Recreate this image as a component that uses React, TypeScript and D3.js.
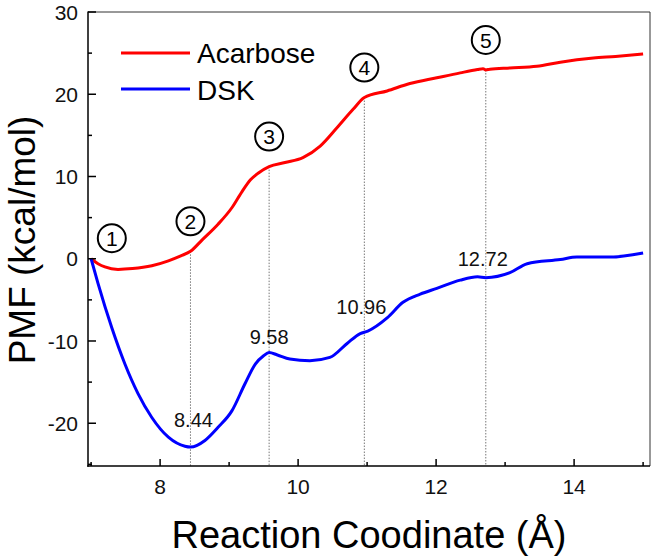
import React from "react";
import * as d3 from "d3";

// ---- Data ----
const acarboseX = [7.0, 7.1, 7.2, 7.39, 7.6, 7.88, 8.12, 8.3, 8.44, 8.61, 8.84, 9.04, 9.19, 9.31, 9.42, 9.58, 9.81, 10.07, 10.32, 10.56, 10.8, 10.96, 11.29, 11.62, 12.01, 12.35, 12.6, 12.68, 12.72, 12.78, 13.07, 13.46, 13.8, 14.28, 14.6, 15.0];
const acarboseY = [0, -0.6, -1.0, -1.3, -1.2, -0.85, -0.25, 0.35, 0.9, 2.3, 4.2, 6.2, 8.2, 9.6, 10.4, 11.2, 11.7, 12.3, 13.7, 15.9, 18.2, 19.6, 20.4, 21.3, 22.0, 22.6, 23.0, 23.1, 22.95, 23.05, 23.2, 23.4, 23.9, 24.4, 24.6, 24.9];

const dskX = [7.0, 7.1, 7.3, 7.49, 7.68, 7.88, 8.12, 8.36, 8.44, 8.65, 8.84, 9.04, 9.23, 9.38, 9.5, 9.58, 9.7, 9.88, 10.17, 10.46, 10.71, 10.9, 11.01, 11.29, 11.52, 11.77, 12.01, 12.35, 12.6, 12.72, 13.07, 13.32, 13.8, 14.04, 14.52, 15.0];
const dskY = [0, -3.0, -8.4, -12.8, -16.4, -19.3, -21.7, -22.8, -22.9, -22.1, -20.5, -18.5, -15.2, -12.8, -11.8, -11.4, -11.7, -12.2, -12.4, -12.0, -10.3, -9.1, -8.8, -7.2, -5.3, -4.3, -3.6, -2.6, -2.2, -2.3, -1.7, -0.6, -0.1, 0.2, 0.2, 0.7];

const markerX = [8.44, 9.58, 10.96, 12.72];
const markerLabels = ["8.44", "9.58", "10.96", "12.72"];
const stageX = [7.3, 8.44, 9.58, 10.96, 12.72];
const stageLabels = ["1", "2", "3", "4", "5"];

const seriesNames = ["Acarbose", "DSK"];
const seriesColors = ["#ff0000", "#0000ff"];

const xMajorTicks = [8, 10, 12, 14];
const xMinorTicks = [7, 9, 11, 13, 15];
const yMajorTicks = [-20, -10, 0, 10, 20, 30];
const yMinorTicks = [-25, -15, -5, 5, 15, 25];

const xTitle = "Reaction Coodinate (Å)";
const yTitle = "PMF (kcal/mol)";

const W = 653;
const H = 558;
const M = { left: 88, top: 12, right: 3, bottom: 92 };
const FONT = "'Liberation Sans', Arial, sans-serif";

function interp(xs: number[], ys: number[], x: number) {
  const i = d3.bisectLeft(xs, x);
  if (i <= 0) return ys[0];
  if (i >= xs.length) return ys[ys.length - 1];
  const x0 = xs[i - 1], x1 = xs[i];
  const t = (x - x0) / (x1 - x0);
  return ys[i - 1] + t * (ys[i] - ys[i - 1]);
}

export default function App() {
  const x = d3.scaleLinear().domain([6.955, 15.1]).range([M.left, W - M.right]);
  const y = d3.scaleLinear().domain([-25.2, 30]).range([H - M.bottom, M.top]);
  const x0 = M.left, x1 = W - M.right, y0 = H - M.bottom, y1 = M.top;

  const line = d3
    .line<[number, number]>()
    .x((d) => x(d[0]))
    .y((d) => y(d[1]))
    .curve(d3.curveMonotoneX);

  const acData: [number, number][] = acarboseX.map((v, i) => [v, acarboseY[i]]);
  const dsData: [number, number][] = dskX.map((v, i) => [v, dskY[i]]);

  return (
    <div style={{ position: "absolute", left: 0, top: 0 }}>
      <svg width={W} height={H} style={{ display: "block", background: "#fff" }} fontFamily={FONT}>
        {/* dotted guide lines */}
        {markerX.map((m, i) => (
          <line
            key={"g" + i}
            x1={x(m)}
            x2={x(m)}
            y1={y(interp(acarboseX, acarboseY, m))}
            y2={y0}
            stroke="#777"
            strokeWidth={1}
            strokeDasharray="1.5,1.5"
          />
        ))}

        {/* curves */}
        <path d={line(acData) || ""} fill="none" stroke={seriesColors[0]} strokeWidth={3} strokeLinejoin="round" />
        <path d={line(dsData) || ""} fill="none" stroke={seriesColors[1]} strokeWidth={3} strokeLinejoin="round" />

        {/* frame */}
        <line x1={x0} x2={x1} y1={y1} y2={y1} stroke="#333" strokeWidth={1} />
        <line x1={x1} x2={x1} y1={y1} y2={y0} stroke="#333" strokeWidth={1} />
        <line x1={x0} x2={x0} y1={y1 - 0.5} y2={y0 + 0.75} stroke="#000" strokeWidth={1.5} />
        <line x1={x0 - 0.75} x2={x1} y1={y0} y2={y0} stroke="#000" strokeWidth={1.5} />

        {/* x ticks */}
        {xMajorTicks.map((t) => (
          <g key={"xM" + t}>
            <line x1={x(t)} x2={x(t)} y1={y0} y2={y0 - 7} stroke="#000" strokeWidth={1.5} />
            <text x={x(t)} y={y0 + 28} textAnchor="middle" fontSize={21} fill="#111">
              {t}
            </text>
          </g>
        ))}
        {xMinorTicks.map((t) => (
          <line key={"xm" + t} x1={x(t)} x2={x(t)} y1={y0} y2={y0 - 4} stroke="#000" strokeWidth={1.5} />
        ))}

        {/* y ticks */}
        {yMajorTicks.map((t) => (
          <g key={"yM" + t}>
            <line x1={x0} x2={x0 + 8} y1={y(t)} y2={y(t)} stroke="#000" strokeWidth={1.5} />
            <text x={x0 - 10} y={y(t)} dy="0.36em" textAnchor="end" fontSize={21} fill="#111">
              {t}
            </text>
          </g>
        ))}
        {yMinorTicks.map((t) => (
          <line key={"ym" + t} x1={x0} x2={x0 + 4} y1={y(t)} y2={y(t)} stroke="#000" strokeWidth={1.5} />
        ))}

        {/* axis titles */}
        <text x={(x0 + x1) / 2} y={548} textAnchor="middle" fontSize={38} fill="#000">
          {xTitle}
        </text>
        <text
          transform={`translate(35, ${(y0 + y1) / 2 + 1}) rotate(-90)`}
          textAnchor="middle"
          fontSize={37}
          fill="#000"
        >
          {yTitle}
        </text>

        {/* legend */}
        {seriesNames.map((n, i) => (
          <g key={"lg" + i}>
            <line x1={121} x2={190} y1={53 + i * 36} y2={53 + i * 36} stroke={seriesColors[i]} strokeWidth={3} />
            <text x={197} y={63 + i * 37} fontSize={28} fill="#000">
              {n}
            </text>
          </g>
        ))}

        {/* DSK annotations */}
        {markerX.map((m, i) => {
          const py = y(interp(dskX, dskY, m));
          const offs = [-20, -9, -18, -12];
          const dxs = [3, 0, -3, -3];
          return (
            <text key={"ml" + i} x={x(m) + dxs[i]} y={py + offs[i]} textAnchor="middle" fontSize={20} fill="#111">
              {markerLabels[i]}
            </text>
          );
        })}

        {/* stage circles */}
        {stageX.map((s, i) => {
          const cx = x(s);
          const cy = y(interp(acarboseX, acarboseY, s)) - 30;
          return (
            <g key={"st" + i}>
              <circle cx={cx} cy={cy} r={14} fill="none" stroke="#000" strokeWidth={2} />
              <text x={cx} y={cy} dy="0.36em" textAnchor="middle" fontSize={21} fill="#000">
                {stageLabels[i]}
              </text>
            </g>
          );
        })}
      </svg>
    </div>
  );
}
